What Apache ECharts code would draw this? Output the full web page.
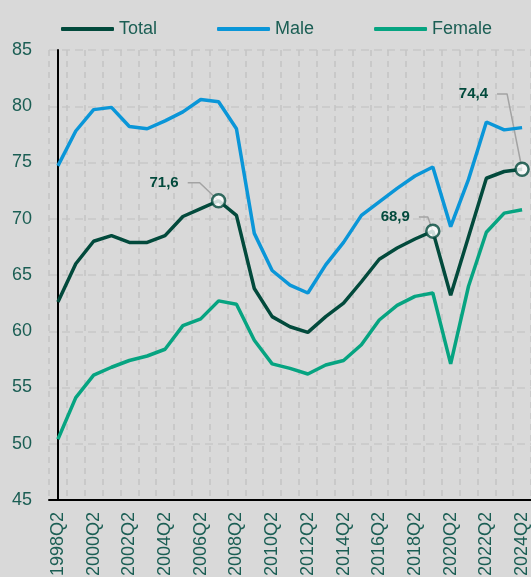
<!DOCTYPE html>
<html>
<head>
<meta charset="utf-8">
<script src="https://cdn.jsdelivr.net/npm/echarts@6/dist/echarts.min.js"></script>
<style>
  html, body { margin: 0; padding: 0; background: #d9d9d9; }
  #chart { width: 531px; height: 577px; }
</style>
</head>
<body>
<div id="chart"></div>
<script>
// categories
var quarters = ['1998Q2', '1999Q2', '2000Q2', '2001Q2', '2002Q2', '2003Q2', '2004Q2', '2005Q2', '2006Q2',
  '2007Q2', '2008Q2', '2009Q2', '2010Q2', '2011Q2', '2012Q2', '2013Q2', '2014Q2', '2015Q2', '2016Q2',
  '2017Q2', '2018Q2', '2019Q2', '2020Q2', '2021Q2', '2022Q2', '2023Q2', '2024Q2'];
// series values
var total = [62.6, 66.0, 68.0, 68.5, 67.9, 67.9, 68.5, 70.2, 70.9, 71.6, 70.3, 63.8, 61.3, 60.4, 59.9,
  61.3, 62.5, 64.4, 66.4, 67.4, 68.2, 68.9, 63.2, 68.4, 73.6, 74.2, 74.4];
var male = [74.7, 77.8, 79.7, 79.9, 78.2, 78.0, 78.7, 79.5, 80.6, 80.4, 78.0, 68.7, 65.4, 64.1, 63.4,
  65.9, 67.9, 70.3, 71.5, 72.7, 73.8, 74.6, 69.3, 73.5, 78.6, 77.9, 78.1];
var female = [50.4, 54.1, 56.1, 56.8, 57.4, 57.8, 58.4, 60.5, 61.1, 62.7, 62.4, 59.2, 57.1, 56.7, 56.2,
  57.0, 57.4, 58.8, 61.0, 62.3, 63.1, 63.4, 57.1, 64.0, 68.8, 70.5, 70.8];
// points of the Total line that get a callout
var calloutIdx = [9, 21, 26];

// callout leader geometry (offsets in axis units, styling only)
var calloutGeom = [
  { elbowX: -1.06, endX: -1.73, dy: 1.6 },
  { elbowX: -0.28, endX: -0.78, dy: 1.26 },
  { elbowX: -0.84, endX: -1.40, dy: 6.7 }
];

var textColor = '#1b5e54';
var cTotal = '#024a3c', cMale = '#0a96d8', cFemale = '#06a481';

var myChart = echarts.init(document.getElementById('chart'));

var leaderSeries = calloutIdx.map(function (idx, k) {
  var g = calloutGeom[k];
  var v = total[idx];
  return {
    type: 'line',
    xAxisIndex: 1,
    yAxisIndex: 0,
    silent: true,
    symbol: 'none',
    z: 1,
    lineStyle: { color: '#a3a3a3', width: 1.5 },
    data: [
      {
        value: [idx + g.endX, v + g.dy],
        symbol: 'circle', symbolSize: 0.1,
        label: {
          show: true, position: 'left', distance: 9,
          formatter: v.toFixed(1).replace('.', ','),
          color: cTotal, fontSize: 15, fontWeight: 'bold',
          fontFamily: 'Liberation Sans, Arial, sans-serif'
        }
      },
      [idx + g.elbowX, v + g.dy],
      [idx, v]
    ]
  };
});

var option = {
  backgroundColor: '#d9d9d9',
  animation: false,
  textStyle: { fontFamily: 'Liberation Sans, Arial, sans-serif' },
  legend: {
    left: 56,
    top: 15,
    itemWidth: 53,
    itemHeight: 4,
    itemGap: 60,
    icon: 'roundRect',
    textStyle: { color: textColor, fontSize: 18 },
    data: ['Total', 'Male', 'Female']
  },
  grid: { left: 49, right: 0, top: 50, bottom: 77, outerBoundsMode: 'none' },
  xAxis: [{
    type: 'category',
    data: quarters,
    boundaryGap: true,
    axisLine: { lineStyle: { color: '#000', width: 2 } },
    axisTick: { show: false },
    axisLabel: { rotate: 90, interval: 1, margin: 12, color: textColor, fontSize: 18 },
    splitLine: { show: true, interval: 0, lineStyle: { color: '#c4c4c4', width: 1.5, type: [6, 5] } }
  }, {
    type: 'value',
    min: -0.5,
    max: 26.5,
    show: false
  }],
  yAxis: {
    type: 'value',
    min: 45,
    max: 85,
    interval: 5,
    axisLine: { show: true, lineStyle: { color: '#000', width: 2 } },
    axisTick: { show: false },
    axisLabel: { margin: 17, color: textColor, fontSize: 18 },
    splitLine: { lineStyle: { color: '#c8c8c8', width: 1.5, type: [8, 5] } }
  },
  series: [{
    name: 'Total',
    type: 'line',
    data: total,
    symbol: 'none',
    z: 4,
    color: cTotal,
    lineStyle: { width: 3.5, color: cTotal }
  }, {
    name: 'Male',
    type: 'line',
    data: male,
    symbol: 'none',
    z: 3,
    color: cMale,
    lineStyle: { width: 3.5, color: cMale }
  }, {
    name: 'Female',
    type: 'line',
    data: female,
    symbol: 'none',
    z: 3,
    color: cFemale,
    lineStyle: { width: 3.5, color: cFemale }
  }, {
    type: 'scatter',
    z: 6,
    silent: true,
    symbol: 'circle',
    symbolSize: 13,
    itemStyle: { color: '#fff', borderColor: cTotal, borderWidth: 2.5 },
    data: calloutIdx.map(function (idx) { return [idx, total[idx]]; })
  }].concat(leaderSeries)
};

myChart.setOption(option);
</script>
</body>
</html>
